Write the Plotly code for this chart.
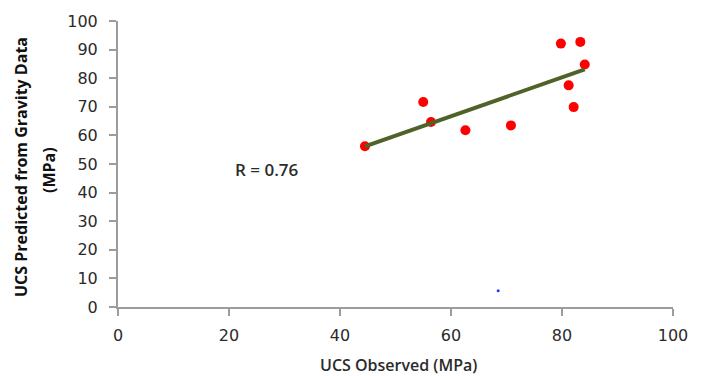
import numpy as np
import plotly.graph_objects as go

# Uniaxial compressive strength: laboratory values vs. values predicted from gravity data
ucs_observed = [44.5, 55.0, 56.4, 62.6, 70.8, 79.8, 81.2, 82.1, 83.3, 84.1]
ucs_predicted = [56.2, 71.7, 64.7, 61.8, 63.5, 92.1, 77.5, 69.9, 92.7, 84.8]

# stray point near the x-axis
stray_x = [68.5]
stray_y = [5.7]

x_ticks = [0, 20, 40, 60, 80, 100]
y_ticks = [0, 10, 20, 30, 40, 50, 60, 70, 80, 90, 100]

# least-squares trend line and correlation coefficient
obs = np.array(ucs_observed)
pred = np.array(ucs_predicted)
slope, intercept = np.polyfit(obs, pred, 1)
r_value = np.corrcoef(obs, pred)[0, 1]
trend_x = [obs.min(), obs.max()]
trend_y = [slope * v + intercept for v in trend_x]

AXIS_GREY = "#9c9c9c"
TEXT = "#2b2b2b"

fig = go.Figure()

fig.add_trace(go.Scatter(
    x=ucs_observed, y=ucs_predicted, mode="markers",
    marker=dict(color="#ff0000", size=10, line=dict(width=0)),
    showlegend=False, hoverinfo="x+y",
))

fig.add_trace(go.Scatter(
    x=trend_x, y=trend_y, mode="lines",
    line=dict(color="#4f6228", width=4),
    showlegend=False, hoverinfo="skip",
))

fig.add_trace(go.Scatter(
    x=stray_x, y=stray_y, mode="markers",
    marker=dict(color="#3030ff", size=3, line=dict(width=0)),
    showlegend=False, hoverinfo="skip",
))

axis_common = dict(
    showgrid=False, zeroline=False,
    showline=True, linecolor=AXIS_GREY, linewidth=2,
    ticks="outside", ticklen=7, tickwidth=2, tickcolor=AXIS_GREY,
    tickfont=dict(family="DejaVu Sans", size=16, color=TEXT),
)

fig.update_xaxes(
    range=[0, 100], tickvals=x_ticks, ticktext=[str(v) for v in x_ticks],
    ticklabelstandoff=6,
    **axis_common,
)
fig.update_yaxes(
    range=[0, 100], tickvals=y_ticks, ticktext=[str(v) for v in y_ticks],
    ticklabelstandoff=8,
    **axis_common,
)

fig.update_layout(
    width=708, height=376,
    margin=dict(l=118, r=35, t=21, b=69),
    paper_bgcolor="white", plot_bgcolor="white",
    showlegend=False,
)

# annotations positioned in page pixels converted to paper fractions
plot_w = 708 - 118 - 35
plot_h = 376 - 21 - 69


def px_to_paper(px, py):
    return (px - 118) / plot_w, (376 - 69 - py) / plot_h


rx, ry = px_to_paper(267, 169)
ax1x, ax1y = px_to_paper(21, 167)
ax2x, ax2y = px_to_paper(49, 170)
tx, ty = px_to_paper(398, 365)

title_font = dict(family="Open Sans", size=16, color="#111111", weight=700)

fig.update_layout(annotations=[
    dict(text="R = %.2f" % r_value, x=rx, y=ry, xref="paper", yref="paper",
         showarrow=False, xanchor="center", yanchor="middle",
         font=dict(family="Open Sans", size=17, color=TEXT, weight=600)),
    dict(text="UCS Predicted from Gravity Data", x=ax1x, y=ax1y, xref="paper", yref="paper",
         showarrow=False, textangle=-90, xanchor="center", yanchor="middle",
         font=title_font),
    dict(text="(MPa)", x=ax2x, y=ax2y, xref="paper", yref="paper",
         showarrow=False, textangle=-90, xanchor="center", yanchor="middle",
         font=title_font),
    dict(text="UCS Observed (MPa)", x=tx, y=ty, xref="paper", yref="paper",
         showarrow=False, xanchor="center", yanchor="middle",
         font=dict(family="Open Sans", size=16, color=TEXT, weight=600)),
])

fig.write_html("out.html")
